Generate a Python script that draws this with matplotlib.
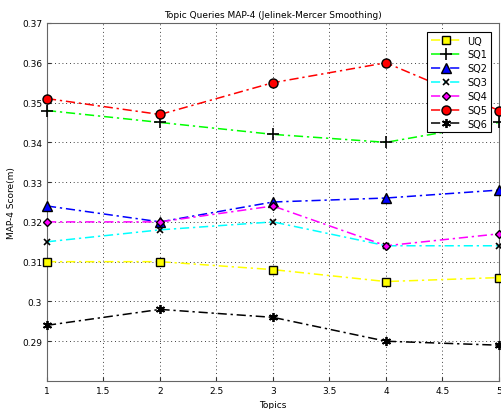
import numpy as np
import matplotlib
matplotlib.use('Agg')
import matplotlib.pyplot as plt

## MAP-4 scores per topic for each query type
topics = [1, 2, 3, 4, 5]
uq  = [0.310, 0.310, 0.308, 0.305, 0.306]
sq1 = [0.348, 0.345, 0.342, 0.340, 0.345]
sq2 = [0.324, 0.320, 0.325, 0.326, 0.328]
sq3 = [0.315, 0.318, 0.320, 0.314, 0.314]
sq4 = [0.320, 0.320, 0.324, 0.314, 0.317]
sq5 = [0.351, 0.347, 0.355, 0.360, 0.348]
sq6 = [0.294, 0.298, 0.296, 0.290, 0.289]

labels = ['UQ', 'SQ1', 'SQ2', 'SQ3', 'SQ4', 'SQ5', 'SQ6']
series = [uq, sq1, sq2, sq3, sq4, sq5, sq6]

plt.rcParams['font.family'] = 'DejaVu Sans'
plt.rcParams['font.size'] = 6.5

fig = plt.figure(figsize=(5.02, 4.10), dpi=100)
ax = fig.add_axes([47/502, 1 - 382/410, 452/502, 358/410])

# (colour, marker, marker face, marker size, marker edge width)
styles = [('#ffff00', 's', '#ffff00', 5.5, 1.0),
          ('#00ff00', '+', 'k', 8, 1.2),
          ('#0000ff', '^', '#0000ff', 6.5, 1.0),
          ('#00ffff', 'x', 'k', 4.5, 1.2),
          ('#ff00ff', 'D', '#ff00ff', 4.5, 1.0),
          ('#ff0000', 'o', '#ff0000', 6.5, 1.0),
          ('#000000', (6, 2, 0), 'k', 6.5, 1.3)]

for vals, lab, (col, mk, mfc, ms, mew) in zip(series, labels, styles):
    ax.plot(topics, vals, color=col, linestyle=(0, (6, 2.5, 1.5, 2.5)), linewidth=1.1,
            marker=mk, markersize=ms, markerfacecolor=mfc, markeredgecolor='k',
            markeredgewidth=mew, label=lab, clip_on=False, zorder=3)

ax.set_xlim(1, 5)
ax.set_ylim(0.28, 0.37)
ax.set_xticks([1, 1.5, 2, 2.5, 3, 3.5, 4, 4.5, 5])
ax.set_xticklabels(['1', '1.5', '2', '2.5', '3', '3.5', '4', '4.5', '5'])
ax.set_yticks([0.29, 0.30, 0.31, 0.32, 0.33, 0.34, 0.35, 0.36, 0.37])
ax.set_yticklabels(['0.29', '0.3', '0.31', '0.32', '0.33', '0.34', '0.35', '0.36', '0.37'])
ax.grid(True, color='k', linestyle=(0, (1, 3.5)), linewidth=0.6)
ax.tick_params(direction='in', length=3, colors='#333333', labelcolor='k')
for s in ax.spines.values():
    s.set_color('#666666')

ax.set_title('Topic Queries MAP-4 (Jelinek-Mercer Smoothing)', fontsize=6.5, pad=4)
ax.set_xlabel('Topics', fontsize=6.5)
ax.set_ylabel('MAP-4 Score(m)', fontsize=6.5)

leg = ax.legend(loc='upper right', bbox_to_anchor=(0.993, 0.988), fancybox=False,
                edgecolor='k', framealpha=1, fontsize=7, handlelength=3.2,
                labelspacing=0.4, borderpad=0.35, handletextpad=0.6)
leg.get_frame().set_linewidth(0.8)

plt.savefig('out.png', dpi=100)
